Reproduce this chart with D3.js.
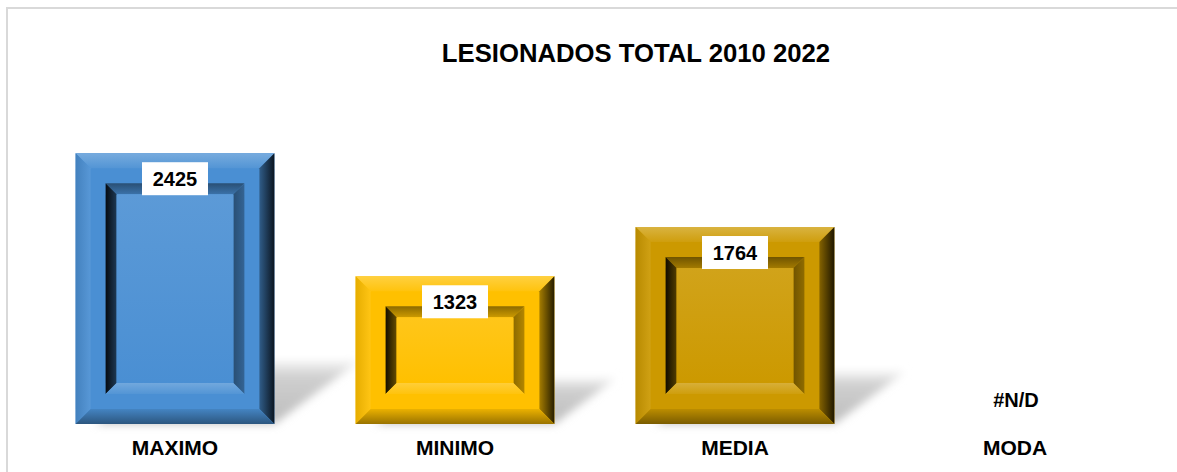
<!DOCTYPE html>
<html>
<head>
<meta charset="utf-8">
<script src="https://cdn.jsdelivr.net/npm/d3@7"></script>
<style>
    body { margin: 0; background: #ffffff; }
    #chart { width: 1177px; height: 472px; }
    text { font-family: "Liberation Sans", Arial, sans-serif; font-weight: bold; }
</style>
</head>
<body>
<div id="chart"></div>
<script>
// DATA
let CATEGORIES = ["MAXIMO", "MINIMO", "MEDIA", "MODA"]
let VALUES = [2425, 1323, 1764, null]
let VALUE_LABELS = ["2425", "1323", "1764", "#N/D"]
let BAR_COLORS = ["#4a8fd3", "#ffc000", "#cc9900", "#cccccc"]
let TITLE = "LESIONADOS TOTAL 2010 2022"

let width = 1177, height = 472

let svg = d3.select("#chart")
    .append("svg")
    .attr("width", width)
    .attr("height", height)

let defs = svg.append("defs")

// blur for the floor shadows
defs.append("filter")
    .attr("id", "shadowBlur")
    .attr("x", "-30%").attr("y", "-30%")
    .attr("width", "160%").attr("height", "160%")
    .append("feGaussianBlur")
    .attr("stdDeviation", 4)

let shadowGrad = defs.append("linearGradient")
    .attr("id", "shadowGrad")
    .attr("x1", 0).attr("y1", 1).attr("x2", 0).attr("y2", 0)
shadowGrad.append("stop").attr("offset", "0%").attr("stop-color", "#bdbdbd")
shadowGrad.append("stop").attr("offset", "75%").attr("stop-color", "#cfcfcf")
shadowGrad.append("stop").attr("offset", "100%").attr("stop-color", "#f4f4f4")

// outer frame of the chart area
svg.append("rect")
    .attr("x", 7)
    .attr("y", 8)
    .attr("width", width + 20)
    .attr("height", height + 20)
    .attr("fill", "#ffffff")
    .attr("stroke", "#d9d9d9")
    .attr("stroke-width", 2)

svg.append("text")
    .attr("x", 636)
    .attr("y", 62)
    .attr("text-anchor", "middle")
    .style("font-size", "25.7px")
    .attr("fill", "#000000")
    .text(TITLE)

// scales
let x = d3.scaleBand()
    .domain(CATEGORIES)
    .range([35, 1155])
    .paddingInner(0.29)
    .paddingOuter(0.145)

let y = d3.scaleLinear()
    .domain([0, 3000])
    .range([424, 89])

let barData = CATEGORIES.map(function (c, i) {
    return { name: c, value: VALUES[i], label: VALUE_LABELS[i], color: BAR_COLORS[i], idx: i }
})
let realBars = barData.filter(function (d) { return d.value !== null })

// gradient helper: one gradient per face of each bar
function makeGrad(id, dir, c1, c2) {
    let g = defs.append("linearGradient").attr("id", id)
    if (dir === "down") g.attr("x1", 0).attr("y1", 0).attr("x2", 0).attr("y2", 1)
    if (dir === "up") g.attr("x1", 0).attr("y1", 1).attr("x2", 0).attr("y2", 0)
    if (dir === "right") g.attr("x1", 0).attr("y1", 0).attr("x2", 1).attr("y2", 0)
    if (dir === "left") g.attr("x1", 1).attr("y1", 0).attr("x2", 0).attr("y2", 0)
    g.append("stop").attr("offset", "0%").attr("stop-color", c1)
    g.append("stop").attr("offset", "100%").attr("stop-color", c2)
    return "url(#" + id + ")"
}

function mix(a, b, t) { return d3.interpolateRgb(a, b)(t) }

// floor shadows
svg.append("g")
    .selectAll("path")
    .data(realBars)
    .enter()
    .append("path")
    .attr("d", function (d) {
        let x0 = x(d.name), x1 = x(d.name) + x.bandwidth()
        let b = y(0), h = y(0) - y(d.value)
        let sh = 25 + 0.14 * h, dx = sh * 1.35
        return "M" + (x0 + 20) + "," + b + "L" + x1 + "," + b +
            "L" + (x1 + dx) + "," + (b - sh) + "L" + (x0 + 20 + dx) + "," + (b - sh) + "Z"
    })
    .attr("fill", "url(#shadowGrad)")
    .attr("filter", "url(#shadowBlur)")

// bevelled bars
let bars = svg.append("g")
    .selectAll("g")
    .data(realBars)
    .enter()
    .append("g")

bars.each(function (d) {
    let g = d3.select(this)
    let base = d.color
    let black = "#000000", white = "#ffffff"
    let x0 = x(d.name), x1 = x(d.name) + x.bandwidth()
    let y0 = y(d.value), y1 = y(0)
    let e1 = 15, flat = 15, e2 = 11
    let id = "b" + d.idx

    g.append("rect")
        .attr("x", x0).attr("y", y0)
        .attr("width", x1 - x0).attr("height", y1 - y0)
        .attr("fill", base)

    function quad(pts, fill) {
        g.append("path")
            .attr("d", "M" + pts.map(function (p) { return p.join(",") }).join("L") + "Z")
            .attr("fill", fill)
    }

    // outer bevel
    quad([[x0, y0], [x1, y0], [x1 - e1, y0 + e1], [x0 + e1, y0 + e1]],
        makeGrad(id + "ot", "down", mix(base, white, 0.25), mix(base, white, 0.05)))
    quad([[x0, y0], [x0 + e1, y0 + e1], [x0 + e1, y1 - e1], [x0, y1]],
        makeGrad(id + "ol", "right", mix(base, black, 0.1), mix(base, white, 0.08)))
    quad([[x1, y0], [x1, y1], [x1 - e1, y1 - e1], [x1 - e1, y0 + e1]],
        makeGrad(id + "or", "left", mix(base, black, 0.85), mix(base, black, 0.35)))
    quad([[x0, y1], [x0 + e1, y1 - e1], [x1 - e1, y1 - e1], [x1, y1]],
        makeGrad(id + "ob", "up", mix(base, black, 0.4), mix(base, black, 0.08)))

    // inner recessed bevel
    let ix0 = x0 + e1 + flat, ix1 = x1 - e1 - flat
    let iy0 = y0 + e1 + flat, iy1 = y1 - e1 - flat
    quad([[ix0, iy0], [ix1, iy0], [ix1 - e2, iy0 + e2], [ix0 + e2, iy0 + e2]],
        makeGrad(id + "it", "down", mix(base, black, 0.45), mix(base, black, 0.2)))
    quad([[ix0, iy0], [ix0 + e2, iy0 + e2], [ix0 + e2, iy1 - e2], [ix0, iy1]],
        makeGrad(id + "il", "right", mix(base, black, 0.92), mix(base, black, 0.6)))
    quad([[ix1, iy0], [ix1, iy1], [ix1 - e2, iy1 - e2], [ix1 - e2, iy0 + e2]],
        makeGrad(id + "ir", "left", mix(base, black, 0.3), mix(base, black, 0.45)))
    quad([[ix0, iy1], [ix0 + e2, iy1 - e2], [ix1 - e2, iy1 - e2], [ix1, iy1]],
        makeGrad(id + "ib", "up", mix(base, white, 0.05), mix(base, white, 0.22)))

    // inner face
    g.append("rect")
        .attr("x", ix0 + e2).attr("y", iy0 + e2)
        .attr("width", ix1 - ix0 - 2 * e2).attr("height", iy1 - iy0 - 2 * e2)
        .attr("fill", makeGrad(id + "f", "down", mix(base, white, 0.1), base))
})

// value labels on white boxes
let labels = svg.append("g")
    .selectAll("g")
    .data(realBars)
    .enter()
    .append("g")
    .attr("transform", function (d) {
        return "translate(" + (x(d.name) + x.bandwidth() / 2) + "," + (y(d.value) + 9) + ")"
    })
labels.append("rect")
    .attr("x", -33).attr("y", 0)
    .attr("width", 66).attr("height", 33)
    .attr("fill", "#ffffff")
labels.append("text")
    .attr("y", 24)
    .attr("text-anchor", "middle")
    .style("font-size", "20px")
    .attr("fill", "#000000")
    .text(function (d) { return d.label })

// missing value label
svg.append("g")
    .selectAll("text")
    .data(barData.filter(function (d) { return d.value === null }))
    .enter()
    .append("text")
    .attr("x", function (d) { return x(d.name) + x.bandwidth() / 2 + 1 })
    .attr("y", 407)
    .attr("text-anchor", "middle")
    .style("font-size", "20px")
    .attr("fill", "#000000")
    .text(function (d) { return d.label })

// category axis
let xAxis = svg.append("g")
    .attr("transform", "translate(0," + y(0) + ")")
    .call(d3.axisBottom(x).tickSize(0).tickPadding(16))
xAxis.select(".domain").remove()
xAxis.selectAll("text")
    .style("font-size", "21px")
    .style("font-family", "'Liberation Sans', Arial, sans-serif")
    .style("font-weight", "bold")
    .attr("fill", "#000000")
</script>
</body>
</html>
